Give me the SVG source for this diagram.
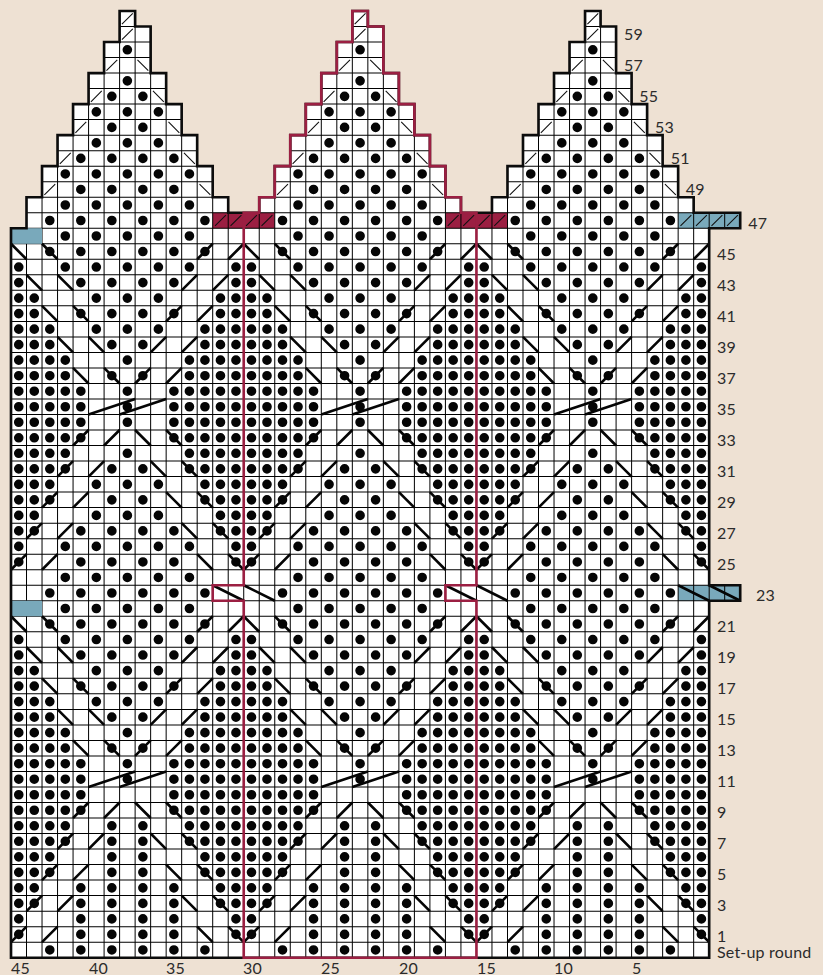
<svg xmlns="http://www.w3.org/2000/svg" width="823" height="975" viewBox="0 0 823 975">
<style>
.t{font-family:"Lato","Noto Sans",sans-serif;font-size:16px;letter-spacing:.2px;fill:#2b2b2b}
.dots{fill:none;stroke:#050505;stroke-width:.62;stroke-linecap:round}
.thick{fill:none;stroke:#050505;stroke-width:.17}
.thin{fill:none;stroke:#111;stroke-width:.07}
.grid{fill:none;stroke:#000;stroke-width:.0645}
.teal{fill:#79a9bb}
.crim{fill:#9b1f42}
</style>
<defs>
<path id="o" d="M0 0V47H1V49H2V51H3V53H4V55H5V57H6V59H7V61H8V60H9V57H10V55H11V53H12V51H13V49H14V48H16V49H17V51H18V53H19V55H20V57H21V59H22V61H23V60H24V57H25V55H26V53H27V51H28V49H29V48H31V49H32V51H33V53H34V55H35V57H36V59H37V61H38V60H39V57H40V55H41V53H42V51H43V49H44V48H47V47H45V24H47V23H45V0Z"/>
<clipPath id="c"><use href="#o"/></clipPath>
<path id="mid" class="dots" d="M.5 13.5h0M1.5 13.5h0M2.5 13.5h0M3.5 13.5h0M6.5 13.5h0M8.5 13.5h0M11.5 13.5h0M12.5 13.5h0M13.5 13.5h0M14.5 13.5h0
M.5 14.5h0M1.5 14.5h0M2.5 14.5h0M3.5 14.5h0M7.5 14.5h0M11.5 14.5h0M12.5 14.5h0M13.5 14.5h0M14.5 14.5h0
M.5 15.5h0M1.5 15.5h0M2.5 15.5h0M6.5 15.5h0M8.5 15.5h0M12.5 15.5h0M13.5 15.5h0M14.5 15.5h0
M.5 16.5h0M1.5 16.5h0M2.5 16.5h0M5.5 16.5h0M7.5 16.5h0M9.5 16.5h0M12.5 16.5h0M13.5 16.5h0M14.5 16.5h0
M.5 17.5h0M1.5 17.5h0M4.5 17.5h0M6.5 17.5h0M8.5 17.5h0M10.5 17.5h0M13.5 17.5h0M14.5 17.5h0
M.5 18.5h0M1.5 18.5h0M5.5 18.5h0M7.5 18.5h0M9.5 18.5h0M13.5 18.5h0M14.5 18.5h0
M.5 19.5h0M4.5 19.5h0M6.5 19.5h0M8.5 19.5h0M10.5 19.5h0M14.5 19.5h0
M.5 20.5h0M3.5 20.5h0M5.5 20.5h0M7.5 20.5h0M9.5 20.5h0M11.5 20.5h0M14.5 20.5h0
M2.5 21.5h0M4.5 21.5h0M6.5 21.5h0M8.5 21.5h0M10.5 21.5h0M12.5 21.5h0"/>
<path id="diag" class="thick" d="M0 1l1 1M2 1l1 1M12 2l1-1M14 2l1-1
M1 3l1 1M3 3l1 1M11 4l1-1M13 4l1-1
M2 5l1 1M4 5l1 1M10 6l1-1M12 6l1-1
M3 7l1 1M5 7l1 1M9 8l1-1M11 8l1-1
M4 9l1 1M6 9l1 1M8 10l1-1M10 10l1-1
M5 11l3 1M7 11l3 1
M4 14l1-1M6 14l1-1M8 13l1 1M10 13l1 1
M3 16l1-1M5 16l1-1M9 15l1 1M11 15l1 1
M2 18l1-1M4 18l1-1M10 17l1 1M12 17l1 1
M1 20l1-1M3 20l1-1M11 19l1 1M13 19l1 1
M0 22l1-1M2 22l1-1M12 21l1 1M14 21l1 1"/>
<g id="block">
<use href="#mid"/>
<use href="#mid" transform="translate(0 24)"/>
<use href="#diag"/>
<use href="#diag" transform="translate(0 24)"/>
<path class="dots" d="M2.5 .5h0M4.5 .5h0M6.5 .5h0M8.5 .5h0M10.5 .5h0M12.5 .5h0
M.5 1.5h0M4.5 1.5h0M6.5 1.5h0M8.5 1.5h0M10.5 1.5h0M14.5 1.5h0
M.5 2.5h0M4.5 2.5h0M6.5 2.5h0M8.5 2.5h0M10.5 2.5h0M14.5 2.5h0
M.5 3.5h0M1.5 3.5h0M4.5 3.5h0M6.5 3.5h0M8.5 3.5h0M10.5 3.5h0M13.5 3.5h0M14.5 3.5h0
M.5 4.5h0M1.5 4.5h0M4.5 4.5h0M6.5 4.5h0M8.5 4.5h0M10.5 4.5h0M13.5 4.5h0M14.5 4.5h0
M.5 5.5h0M1.5 5.5h0M2.5 5.5h0M6.5 5.5h0M8.5 5.5h0M12.5 5.5h0M13.5 5.5h0M14.5 5.5h0
M.5 6.5h0M1.5 6.5h0M2.5 6.5h0M6.5 6.5h0M8.5 6.5h0M12.5 6.5h0M13.5 6.5h0M14.5 6.5h0
M.5 7.5h0M1.5 7.5h0M2.5 7.5h0M3.5 7.5h0M6.5 7.5h0M8.5 7.5h0M11.5 7.5h0M12.5 7.5h0M13.5 7.5h0M14.5 7.5h0
M.5 8.5h0M1.5 8.5h0M2.5 8.5h0M3.5 8.5h0M6.5 8.5h0M8.5 8.5h0M11.5 8.5h0M12.5 8.5h0M13.5 8.5h0M14.5 8.5h0
M.5 9.5h0M1.5 9.5h0M2.5 9.5h0M3.5 9.5h0M4.5 9.5h0M10.5 9.5h0M11.5 9.5h0M12.5 9.5h0M13.5 9.5h0M14.5 9.5h0
M.5 10.5h0M1.5 10.5h0M2.5 10.5h0M3.5 10.5h0M4.5 10.5h0M10.5 10.5h0M11.5 10.5h0M12.5 10.5h0M13.5 10.5h0M14.5 10.5h0
M.5 11.5h0M1.5 11.5h0M2.5 11.5h0M3.5 11.5h0M4.5 11.5h0M7.5 11.5h0M10.5 11.5h0M11.5 11.5h0M12.5 11.5h0M13.5 11.5h0M14.5 11.5h0
M.5 12.5h0M1.5 12.5h0M2.5 12.5h0M3.5 12.5h0M4.5 12.5h0M7.5 12.5h0M10.5 12.5h0M11.5 12.5h0M12.5 12.5h0M13.5 12.5h0M14.5 12.5h0
M3.5 22.5h0M5.5 22.5h0M7.5 22.5h0M9.5 22.5h0M11.5 22.5h0
M2.5 23.5h0M4.5 23.5h0M6.5 23.5h0M8.5 23.5h0M10.5 23.5h0M12.5 23.5h0
M3.5 24.5h0M5.5 24.5h0M7.5 24.5h0M9.5 24.5h0M11.5 24.5h0
M.5 25.5h0M4.5 25.5h0M6.5 25.5h0M8.5 25.5h0M10.5 25.5h0M14.5 25.5h0
M.5 26.5h0M3.5 26.5h0M5.5 26.5h0M7.5 26.5h0M9.5 26.5h0M11.5 26.5h0M14.5 26.5h0
M.5 27.5h0M1.5 27.5h0M4.5 27.5h0M6.5 27.5h0M8.5 27.5h0M10.5 27.5h0M13.5 27.5h0M14.5 27.5h0
M.5 28.5h0M1.5 28.5h0M5.5 28.5h0M7.5 28.5h0M9.5 28.5h0M13.5 28.5h0M14.5 28.5h0
M.5 29.5h0M1.5 29.5h0M2.5 29.5h0M6.5 29.5h0M8.5 29.5h0M12.5 29.5h0M13.5 29.5h0M14.5 29.5h0
M.5 30.5h0M1.5 30.5h0M2.5 30.5h0M5.5 30.5h0M7.5 30.5h0M9.5 30.5h0M12.5 30.5h0M13.5 30.5h0M14.5 30.5h0
M.5 31.5h0M1.5 31.5h0M2.5 31.5h0M3.5 31.5h0M6.5 31.5h0M8.5 31.5h0M11.5 31.5h0M12.5 31.5h0M13.5 31.5h0M14.5 31.5h0
M.5 32.5h0M1.5 32.5h0M2.5 32.5h0M3.5 32.5h0M7.5 32.5h0M11.5 32.5h0M12.5 32.5h0M13.5 32.5h0M14.5 32.5h0
M.5 33.5h0M1.5 33.5h0M2.5 33.5h0M3.5 33.5h0M4.5 33.5h0M10.5 33.5h0M11.5 33.5h0M12.5 33.5h0M13.5 33.5h0M14.5 33.5h0
M.5 34.5h0M1.5 34.5h0M2.5 34.5h0M3.5 34.5h0M4.5 34.5h0M7.5 34.5h0M10.5 34.5h0M11.5 34.5h0M12.5 34.5h0M13.5 34.5h0M14.5 34.5h0
M.5 35.5h0M1.5 35.5h0M2.5 35.5h0M3.5 35.5h0M4.5 35.5h0M7.5 35.5h0M10.5 35.5h0M11.5 35.5h0M12.5 35.5h0M13.5 35.5h0M14.5 35.5h0
M.5 36.5h0M1.5 36.5h0M2.5 36.5h0M3.5 36.5h0M4.5 36.5h0M7.5 36.5h0M10.5 36.5h0M11.5 36.5h0M12.5 36.5h0M13.5 36.5h0M14.5 36.5h0
M3.5 46.5h0M5.5 46.5h0M7.5 46.5h0M9.5 46.5h0M11.5 46.5h0
M2.5 47.5h0M4.5 47.5h0M6.5 47.5h0M8.5 47.5h0M10.5 47.5h0M12.5 47.5h0
M3.5 48.5h0M5.5 48.5h0M7.5 48.5h0M9.5 48.5h0M11.5 48.5h0
M4.5 49.5h0M6.5 49.5h0M8.5 49.5h0M10.5 49.5h0
M3.5 50.5h0M5.5 50.5h0M7.5 50.5h0M9.5 50.5h0M11.5 50.5h0
M4.5 51.5h0M6.5 51.5h0M8.5 51.5h0M10.5 51.5h0
M5.5 52.5h0M7.5 52.5h0M9.5 52.5h0
M6.5 53.5h0M8.5 53.5h0
M5.5 54.5h0M7.5 54.5h0M9.5 54.5h0
M6.5 55.5h0M8.5 55.5h0
M7.5 56.5h0
M7.5 58.5h0"/>
<path class="thick" d="M13 24l2-1M15 24l2-1"/>
<path class="thin" d="M13.15 47.15l.7.7M14.15 47.15l.7.7M15.15 47.15l.7.7M16.15 47.15l.7.7
M2.15 49.15l.7.7M12.15 49.85l.7-.7
M3.15 51.15l.7.7M11.15 51.85l.7-.7
M4.15 53.15l.7.7M10.15 53.85l.7-.7
M5.15 55.15l.7.7M9.15 55.85l.7-.7
M6.15 57.15l.7.7M8.15 57.85l.7-.7
M7.15 59.15l.7.7M7.15 60.15l.7.7"/>
</g>
</defs>
<rect width="823" height="975" fill="#eee1d3"/>
<g id="chart" transform="matrix(15.515 0 0 -15.52 11 957.7)">
<use href="#o" fill="#fff"/>
<rect class="crim" x="13" y="47" width="4" height="1"/>
<rect class="crim" x="28" y="47" width="4" height="1"/>
<rect class="teal" x="43" y="47" width="4" height="1"/>
<rect class="teal" x="43" y="23" width="4" height="1"/>
<g clip-path="url(#c)">
<path class="grid" d="M1 0V61M2 0V61M3 0V61M4 0V61M5 0V61M6 0V61M7 0V61M8 0V61M9 0V61M10 0V61M11 0V61M12 0V61M13 0V61M14 0V61M15 0V61M16 0V61M17 0V61M18 0V61M19 0V61M20 0V61M21 0V61M22 0V61M23 0V61M24 0V61M25 0V61M26 0V61M27 0V61M28 0V61M29 0V61M30 0V61M31 0V61M32 0V61M33 0V61M34 0V61M35 0V61M36 0V61M37 0V61M38 0V61M39 0V61M40 0V61M41 0V61M42 0V61M43 0V61M44 0V61M45 0V61M46 0V61"/>
<path class="grid" d="M0 1H47M0 2H47M0 3H47M0 4H47M0 5H47M0 6H47M0 7H47M0 8H47M0 9H47M0 10H47M0 11H47M0 12H47M0 13H47M0 14H47M0 15H47M0 16H47M0 17H47M0 18H47M0 19H47M0 20H47M0 21H47M0 22H47M0 23H47M0 24H47M0 25H47M0 26H47M0 27H47M0 28H47M0 29H47M0 30H47M0 31H47M0 32H47M0 33H47M0 34H47M0 35H47M0 36H47M0 37H47M0 38H47M0 39H47M0 40H47M0 41H47M0 42H47M0 43H47M0 44H47M0 45H47M0 46H47M0 47H47M0 48H47M0 49H47M0 50H47M0 51H47M0 52H47M0 53H47M0 54H47M0 55H47M0 56H47M0 57H47M0 58H47M0 59H47M0 60H47"/>
</g>
<rect class="teal" x="0" y="46" width="2" height="1"/>
<rect class="teal" x="0" y="22" width="2" height="1"/>
<use href="#block"/>
<use href="#block" transform="translate(15 0)"/>
<use href="#block" transform="translate(30 0)"/>
<use href="#o" fill="none" stroke="#0c0c0c" stroke-width=".17"/>
<path id="red-outline" fill="none" stroke="#9b1f42" stroke-width=".17" d="M15 0V23H13V24H15V48H16V49H17V51H18V53H19V55H20V57H21V59H22V61H23V60H24V57H25V55H26V53H27V51H28V49H29V48H30V24H28V23H30V0Z"/>
</g>
<g id="labels">
<text class="t" x="624" y="40">59</text>
<text class="t" x="624" y="70.7">57</text>
<text class="t" x="639.3" y="102">55</text>
<text class="t" x="655" y="133.3">53</text>
<text class="t" x="670.7" y="164">51</text>
<text class="t" x="685.7" y="195">49</text>
<text class="t" x="748.3" y="229.3">47</text>
<text class="t" x="717" y="259.5">45</text>
<text class="t" x="717" y="290.6">43</text>
<text class="t" x="717" y="321.6">41</text>
<text class="t" x="717" y="352.7">39</text>
<text class="t" x="717" y="383.7">37</text>
<text class="t" x="717" y="414.7">35</text>
<text class="t" x="717" y="445.8">33</text>
<text class="t" x="717" y="476.8">31</text>
<text class="t" x="717" y="507.9">29</text>
<text class="t" x="717" y="538.9">27</text>
<text class="t" x="717" y="570">25</text>
<text class="t" x="756" y="601">23</text>
<text class="t" x="717" y="632">21</text>
<text class="t" x="717" y="663.1">19</text>
<text class="t" x="717" y="694.1">17</text>
<text class="t" x="717" y="725.1">15</text>
<text class="t" x="717" y="756.2">13</text>
<text class="t" x="717" y="787.2">11</text>
<text class="t" x="717" y="818.3">9</text>
<text class="t" x="717" y="849.3">7</text>
<text class="t" x="717" y="880.3">5</text>
<text class="t" x="717" y="911.4">3</text>
<text class="t" x="717" y="942.4">1</text>
<text class="t" x="717" y="957.6">Set-up round</text>
<text class="t" x="11" y="973.6">45</text>
<text class="t" x="89" y="973.6">40</text>
<text class="t" x="166" y="973.6">35</text>
<text class="t" x="243" y="973.6">30</text>
<text class="t" x="321" y="973.6">25</text>
<text class="t" x="399" y="973.6">20</text>
<text class="t" x="477" y="973.6">15</text>
<text class="t" x="554" y="973.6">10</text>
<text class="t" x="632" y="973.6">5</text>
</g>
</svg>
